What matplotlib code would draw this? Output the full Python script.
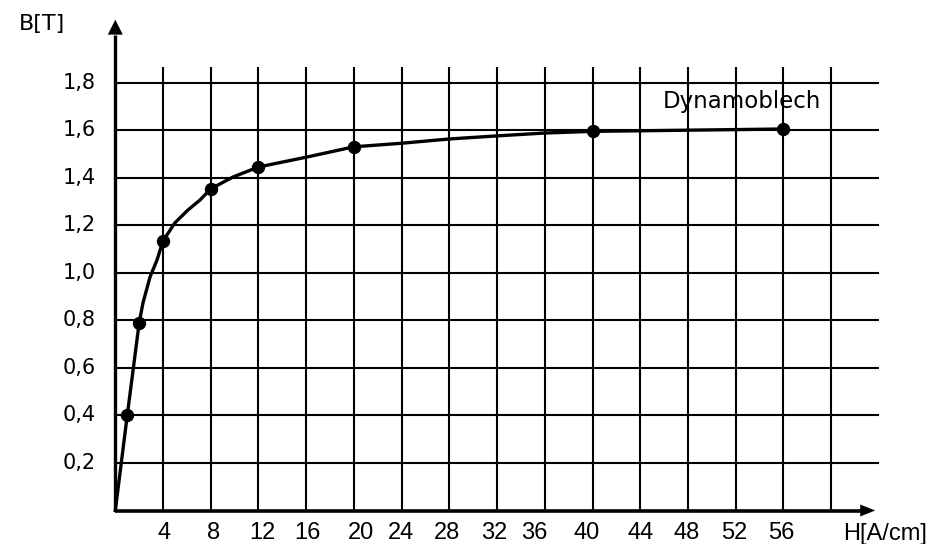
import numpy as np
import matplotlib.pyplot as plt

# measured points (H in A/cm, B in T)
h_pts = [0, 1, 2, 4, 8, 12, 20, 40, 56]
b_pts = [0, 0.40, 0.79, 1.135, 1.354, 1.446, 1.531, 1.596, 1.606]

# positions
h_curve = [0, 1, 2, 2.32, 2.91, 3.5, 4, 5.0, 6.09, 7.1, 8, 9.87, 12, 16.07, 20, 24, 28, 32, 36, 40, 56]
b_curve = [0, 0.40, 0.79, 0.874, 0.983, 1.055, 1.135, 1.211, 1.265, 1.307, 1.354, 1.404, 1.446,
           1.488, 1.531, 1.546, 1.564, 1.577, 1.589, 1.596, 1.606]

x_ticks = [4, 8, 12, 16, 20, 24, 28, 32, 36, 40, 44, 48, 52, 56]
y_ticks = [0.2, 0.4, 0.6, 0.8, 1.0, 1.2, 1.4, 1.6, 1.8]
y_labels = ['0,2', '0,4', '0,6', '0,8', '1,0', '1,2', '1,4', '1,6', '1,8']
# label shifts in the drawing (pixels)
x_label_shift = [1, 3, 4, 1, 7, -1, -2, -3, -11, -6, 0, -1, -1, -2]

fig = plt.figure(figsize=(9.46, 5.44), dpi=100)
ax = fig.add_axes([0, 0, 1, 1])
ax.set_xlim(-9.665, 69.63)
ax.set_ylim(-0.141, 2.149)
ax.axis('off')

# grid
grid_x = np.arange(4, 61, 4)
ax.vlines(grid_x, 0, 1.867, color='black', lw=1.5)
ax.hlines(y_ticks, 0, 64, color='black', lw=1.5)

# axes with arrows
ax.plot([0, 0], [0, 2.0], color='black', lw=2.4, solid_capstyle='butt')
ax.plot([0, 62.7], [0, 0], color='black', lw=2.6, solid_capstyle='butt')
ax.annotate('', xy=(0, 2.078), xytext=(0, 1.98),
            arrowprops=dict(arrowstyle='-|>,head_length=1.08,head_width=0.54', color='black', lw=0))
ax.annotate('', xy=(63.93, 0), xytext=(62.3, 0),
            arrowprops=dict(arrowstyle='-|>,head_length=1.08,head_width=0.43', color='black', lw=0))

# curve and points
ax.plot(h_curve, b_curve, color='black', lw=2.4, solid_joinstyle='round')
ax.plot(h_pts[1:], b_pts[1:], 'o', color='black', ms=8.6)

# tick labels
for x, s in zip(x_ticks, x_label_shift):
    ax.annotate(str(x), (x, 0), xytext=(s * 0.72, -16), textcoords='offset points',
                ha='center', va='center', fontsize=17, family='Liberation Sans')
for y, lab in zip(y_ticks, y_labels):
    ax.annotate(lab, (0, y), xytext=(-14, 0), textcoords='offset points',
                ha='right', va='center', fontsize=15, family='DejaVu Sans')

ax.text(-8.1, 2.05, 'B[T]', ha='left', va='center', fontsize=16, family='DejaVu Sans')
ax.text(61.0, -0.097, 'H[A/cm]', ha='left', va='center', fontsize=17, family='Liberation Sans')
ax.text(45.9, 1.72, 'Dynamoblech', ha='left', va='center', fontsize=16.5, family='DejaVu Sans')

fig.savefig('out.png', dpi=100)
